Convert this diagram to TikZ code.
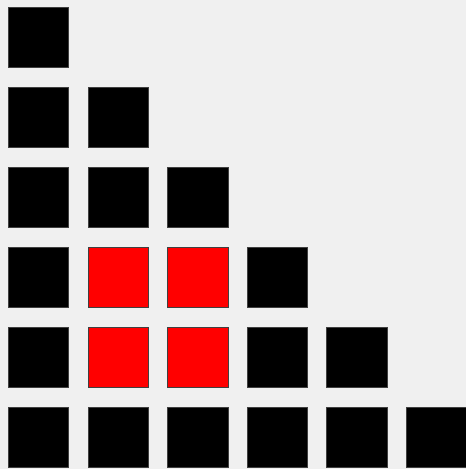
\documentclass[tikz,border=0pt]{standalone}
\begin{document}
\begin{tikzpicture}[x=0.75pt,y=-0.75pt,
  cell/.style={draw=black!75,line width=0.6pt,fill=black,minimum size=45.3pt,inner sep=0pt,outer sep=0pt},
  redcell/.style={cell,fill=red}]
\fill[gray!12] (0,0) rectangle (466,469);
\useasboundingbox (0,0) rectangle (466,469);
\foreach \r in {0,...,5}{
  \foreach \c in {0,...,\r}{
    \pgfmathsetmacro{\cx}{8+79.6*\c+30.5}
    \pgfmathsetmacro{\cy}{7+80*\r+30.5}
    \ifnum\r>2 \ifnum\r<5 \ifnum\c>0 \ifnum\c<3
      \node[redcell] (s\r\c) at (\cx,\cy) {};
    \else \node[cell] (s\r\c) at (\cx,\cy) {}; \fi
    \else \node[cell] (s\r\c) at (\cx,\cy) {}; \fi
    \else \node[cell] (s\r\c) at (\cx,\cy) {}; \fi
    \else \node[cell] (s\r\c) at (\cx,\cy) {}; \fi
  }
}
\end{tikzpicture}
\end{document}
